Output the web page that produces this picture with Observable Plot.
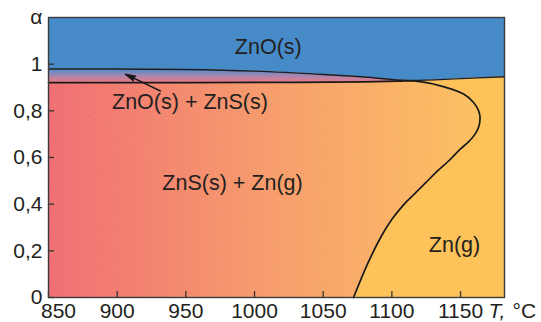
<!DOCTYPE html>
<html><head><meta charset="utf-8">
<script src="https://cdn.jsdelivr.net/npm/d3@7"></script>
<script src="https://cdn.jsdelivr.net/npm/@observablehq/plot@0.6"></script>
<style>html,body{margin:0;padding:0;background:#fff}</style>
</head><body><div id="chart"></div>
<script>
// ---- data ----
const xTicks = [850, 900, 950, 1000, 1050, 1100, 1150];
const yTicks = [0, 0.2, 0.4, 0.6, 0.8, 1, 1.2];
const yTickLabels = ["0", "0,2", "0,4", "0,6", "0,8", "1", "α"];
const xTitleItalic = "T,";
const xTitleUnit = "°C";

// boundary of ZnO(s) region (T, α)
const znoT = [850, 900, 950, 1000, 1050, 1080, 1112, 1150, 1182];
const znoA = [0.979, 0.979, 0.977, 0.970, 0.956, 0.945, 0.930, 0.938, 0.946];
// boundary of ZnS(s) region: along the top, around the nose, down to α = 0
const znsT = [850, 950, 1030, 1080, 1105, 1116, 1135.4, 1152.2, 1159.5, 1163.2, 1164.2, 1163.2, 1160.2, 1155.8, 1150.0, 1141.3, 1132.5, 1124.5, 1116.5, 1108.5, 1099.8, 1091.7, 1082.3, 1072.1];
const znsA = [0.921, 0.921, 0.922, 0.924, 0.927, 0.928, 0.907, 0.872, 0.836, 0.800, 0.770, 0.731, 0.697, 0.667, 0.637, 0.585, 0.538, 0.491, 0.444, 0.397, 0.333, 0.256, 0.144, 0];
const znoCross = 7;   // number of ZnO points up to the crossing
const znsCross = 6;   // number of ZnS points up to the crossing

const regionLabels = ["ZnO(s)", "ZnO(s) + ZnS(s)", "ZnS(s) + Zn(g)", "Zn(g)"];
const regionT = [1010, 953, 984, 1145.6];
const regionA = [1.075, 0.837, 0.489, 0.226];

const arrowFrom = [931.5, 0.885];
const arrowTo = [906, 0.957];

const xDomain = [850, 1182];
const yDomain = [0, 1.2];

// ---- styling ----
const W = 541, H = 322;
const M = {top: 17, right: 37, bottom: 25, left: 48};
const plotW = W - M.left - M.right, plotH = H - M.top - M.bottom;
const FONT = "'Liberation Sans', Arial, Helvetica, sans-serif";
const ink = "#231f20";
const colZnO = "#468bc8";
const colZnG = "#fdc25a";

const idx = a => d3.range(a.length);
const bandIdx = [...d3.range(znoCross).map(i => ["o", i]), ...d3.range(znsCross - 1, -1, -1).map(i => ["s", i])];
const tri = [[znsT[0], znsA[0]], [znsT[znsT.length - 1], znsA[znsA.length - 1]], [xDomain[0], yDomain[0]]];

const chart = Plot.plot({
  width: W, height: H,
  marginTop: M.top, marginRight: M.right, marginBottom: M.bottom, marginLeft: M.left,
  x: {domain: xDomain, axis: null},
  y: {domain: yDomain, axis: null},
  style: {fontFamily: FONT, fontSize: "21px", color: ink, background: "#fff", overflow: "visible"},
  marks: [
    Plot.frame({fill: colZnG, stroke: "none"}),
    // transition band between the two boundaries
    Plot.line(bandIdx, {x: ([k, i]) => k === "o" ? znoT[i] : znsT[i], y: ([k, i]) => k === "o" ? znoA[i] : znsA[i],
      fill: "url(#bandGrad)", stroke: "url(#bandGrad)", strokeWidth: 1}),
    // ZnS(s) + Zn(g) region
    Plot.line(tri, {x: d => d[0], y: d => d[1], fill: "url(#mainGrad)", stroke: "url(#mainGrad)", strokeWidth: 1}),
    Plot.line(idx(znsT), {x: i => znsT[i], y: i => znsA[i], curve: "catmull-rom", fill: "url(#mainGrad)", stroke: "none"}),
    Plot.line(tri, {x: d => d[0], y: d => d[1], fill: "url(#hatch)", stroke: "none"}),
    Plot.line(idx(znsT), {x: i => znsT[i], y: i => znsA[i], curve: "catmull-rom", fill: "url(#hatch)", stroke: "none"}),
    // ZnO(s) region
    Plot.areaY(idx(znoT), {x: i => znoT[i], y1: i => znoA[i], y2: () => yDomain[1], fill: colZnO, curve: "catmull-rom"}),
    // boundaries
    Plot.line(idx(znoT), {x: i => znoT[i], y: i => znoA[i], curve: "catmull-rom", stroke: "#1c1c22", strokeWidth: 1.4}),
    Plot.line(idx(znsT), {x: i => znsT[i], y: i => znsA[i], curve: "catmull-rom", stroke: "#1a1a1a", strokeWidth: 1.7}),
    // arrow
    Plot.arrow([0], {x1: () => arrowFrom[0], y1: () => arrowFrom[1], x2: () => arrowTo[0], y2: () => arrowTo[1],
      stroke: "#1a1a1a", fill: "#1a1a1a", strokeWidth: 1.4, headLength: 11, headAngle: 28}),
    // region labels
    Plot.text(idx(regionLabels), {x: i => regionT[i], y: i => regionA[i], text: i => regionLabels[i],
      fontSize: 21.5, fill: ink}),
    // inward ticks
    Plot.tickX(xTicks, {x: d => d, insetTop: plotH - 6, stroke: "#333", strokeWidth: 1.3}),
    Plot.tickY(yTicks.filter(d => d < yDomain[1]), {y: d => d, insetRight: plotW - 6, stroke: "#333", strokeWidth: 1.3}),
    // axes
    Plot.axisX([xTicks[0]], {tickSize: 0, tickPadding: 6, fontSize: 21, label: null, fill: ink, dx: 10,
      tickFormat: d => String(d)}),
    Plot.axisX(xTicks.slice(1), {tickSize: 0, tickPadding: 6, fontSize: 21, label: null, fill: ink,
      tickFormat: d => String(d)}),
    Plot.axisY(yTicks, {tickSize: 0, tickPadding: 6, fontSize: 21, label: null, fill: ink,
      tickFormat: d => yTickLabels[yTicks.indexOf(d)]}),
    Plot.text([xTicks[xTicks.length - 1]], {x: d => d, frameAnchor: "bottom", lineAnchor: "top", dy: 6, dx: 28,
      textAnchor: "start", text: () => xTitleItalic, fontStyle: "italic", fontSize: 21, fill: ink}),
    Plot.text([xTicks[xTicks.length - 1]], {x: d => d, frameAnchor: "bottom", lineAnchor: "top", dy: 6, dx: 52,
      textAnchor: "start", text: () => xTitleUnit, fontSize: 21, fill: ink}),
    Plot.frame({stroke: "#3c3c3c", strokeWidth: 1.4})
  ]
});

// gradients & hatch pattern (positions from the plot's own scales)
const sx = chart.scale("x"), sy = chart.scale("y");
const defs = d3.select(chart).insert("defs", ":first-child");
const mg = defs.append("linearGradient").attr("id", "mainGrad").attr("gradientUnits", "userSpaceOnUse")
  .attr("x1", sx.apply(xDomain[0])).attr("x2", sx.apply(d3.max(znsT))).attr("y1", 0).attr("y2", 0);
[[0, "#ef6a6f"], [0.55, "#f79d67"], [1, "#fcbf5d"]].forEach(([o, c]) => mg.append("stop").attr("offset", o).attr("stop-color", c));
const bg = defs.append("linearGradient").attr("id", "bandGrad").attr("gradientUnits", "userSpaceOnUse")
  .attr("x1", 0).attr("x2", 0).attr("y1", sy.apply(d3.max(znoA))).attr("y2", sy.apply(d3.min(znsA.slice(0, znsCross))));
[[0, "#4b8ccb"], [0.5, "#a886b0"], [1, "#ef7a84"]].forEach(([o, c]) => bg.append("stop").attr("offset", o).attr("stop-color", c));
const pat = defs.append("pattern").attr("id", "hatch").attr("patternUnits", "userSpaceOnUse")
  .attr("width", 3.6).attr("height", 3.6).attr("patternTransform", "rotate(-20)");
pat.append("path").attr("d", "M-1,1 L1,-1 M0,3.6 L3.6,0 M2.6,4.6 L4.6,2.6")
  .attr("stroke", "#fff").attr("stroke-opacity", 0.16).attr("stroke-width", 0.8);

document.getElementById("chart").appendChild(chart);
</script>
</body></html>
